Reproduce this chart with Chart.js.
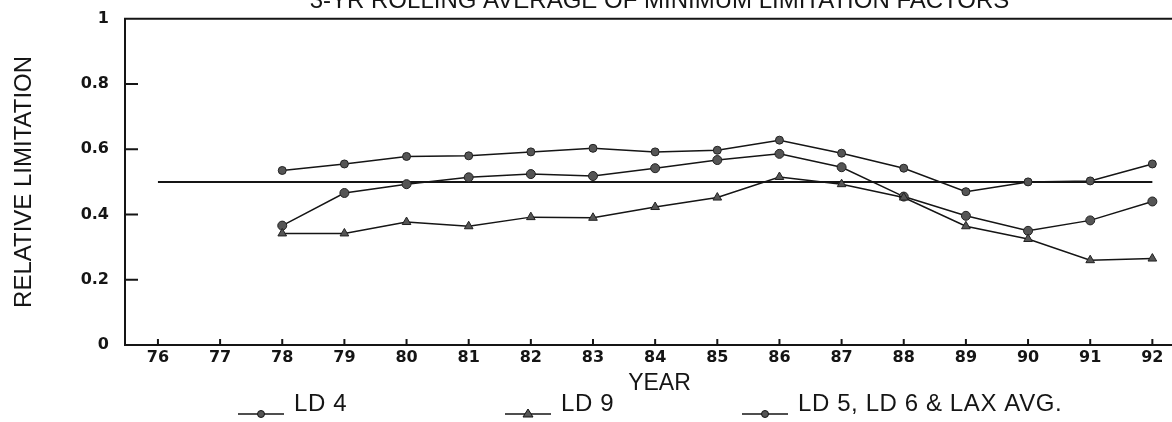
<!DOCTYPE html>
<html>
<head>
<meta charset="utf-8">
<script src="https://cdn.jsdelivr.net/npm/chart.js@4.4.1/dist/chart.umd.min.js"></script>
<style>
  html, body { margin: 0; padding: 0; background: #fff; overflow: hidden; width: 1172px; height: 422px; }
  #wrap { position: absolute; left: 0; top: -13px; width: 1200px; height: 435px; }
</style>
</head>
<body>
<div id="wrap"><canvas id="chart" width="1200" height="435"></canvas></div>
<script>
// --- data ---
const years = [78, 79, 80, 81, 82, 83, 84, 85, 86, 87, 88, 89, 90, 91, 92];
const ld4 = [0.535, 0.555, 0.578, 0.580, 0.592, 0.603, 0.592, 0.597, 0.628, 0.588, 0.542, 0.470, 0.500, 0.503, 0.555];
const ld9 = [0.342, 0.342, 0.377, 0.364, 0.392, 0.390, 0.423, 0.452, 0.515, 0.493, 0.452, 0.364, 0.325, 0.260, 0.265];
const ldAvg = [0.366, 0.466, 0.493, 0.514, 0.524, 0.518, 0.542, 0.567, 0.586, 0.545, 0.455, 0.396, 0.350, 0.382, 0.440];
const refYears = [76, 92];
const refLevel = 0.5;
const xTicks = [76, 77, 78, 79, 80, 81, 82, 83, 84, 85, 86, 87, 88, 89, 90, 91, 92];
const yTicks = [0, 0.2, 0.4, 0.6, 0.8, 1];

const INK = '#151515';
const SANS = "'Liberation Sans', Arial, Helvetica, sans-serif";
const BOLD = "'DejaVu Sans', sans-serif";

const toPoints = vals => years.map((yr, i) => ({ x: yr, y: vals[i] }));

// left edge of each legend entry (symbol start), in px
const legendLeft = [238, 505, 742];

// inner tick marks, top frame line and the legend
const framePlugin = {
    id: 'frame',
    afterDraw(chart) {
        const { ctx, chartArea: a, scales: { x, y } } = chart;
        ctx.save();
        ctx.strokeStyle = INK;
        ctx.lineWidth = 2;
        ctx.beginPath();
        ctx.moveTo(a.left - 1, a.top);
        ctx.lineTo(a.right, a.top);
        yTicks.slice(1, -1).forEach(v => {
            const py = y.getPixelForValue(v);
            ctx.moveTo(a.left, py);
            ctx.lineTo(a.left + 13, py);
        });
        xTicks.forEach(v => {
            const px = x.getPixelForValue(v);
            ctx.moveTo(px, a.bottom);
            ctx.lineTo(px, a.bottom - 6);
        });
        ctx.stroke();

        // legend
        const base = chart.height - 11;
        const lineY = base + 3;
        const items = chart.data.datasets.filter(ds => ds.marker);
        ctx.font = '24px ' + SANS;
        ctx.letterSpacing = '0.6px';
        ctx.textBaseline = 'alphabetic';
        ctx.textAlign = 'left';
        items.forEach((ds, i) => {
            const x0 = legendLeft[i];
            const cx = x0 + 23;
            ctx.lineWidth = 1.5;
            ctx.strokeStyle = INK;
            ctx.beginPath();
            ctx.moveTo(x0, lineY);
            ctx.lineTo(x0 + 46, lineY);
            ctx.stroke();
            ctx.fillStyle = '#555';
            ctx.lineWidth = 1;
            ctx.beginPath();
            if (ds.marker === 'triangle') {
                ctx.moveTo(cx, lineY - 5);
                ctx.lineTo(cx + 5, lineY + 3);
                ctx.lineTo(cx - 5, lineY + 3);
                ctx.closePath();
            } else {
                ctx.arc(cx, lineY, 3.5, 0, Math.PI * 2);
            }
            ctx.fill();
            ctx.stroke();
            ctx.fillStyle = INK;
            ctx.fillText(ds.label, x0 + 56, base);
        });
        ctx.restore();
    }
};

new Chart(document.getElementById('chart'), {
    type: 'line',
    data: {
        datasets: [
            {
                label: 'LD 4',
                marker: 'circle',
                data: toPoints(ld4),
                borderColor: INK,
                borderWidth: 1.5,
                pointStyle: 'circle',
                pointRadius: 4,
                pointBackgroundColor: '#555',
                pointBorderColor: '#222',
                pointBorderWidth: 1
            },
            {
                label: 'LD 9',
                marker: 'triangle',
                data: toPoints(ld9),
                borderColor: INK,
                borderWidth: 1.5,
                pointStyle: 'triangle',
                pointRadius: 5,
                pointBackgroundColor: '#555',
                pointBorderColor: '#222',
                pointBorderWidth: 1
            },
            {
                label: 'LD 5, LD 6 & LAX AVG.',
                marker: 'circle',
                data: toPoints(ldAvg),
                borderColor: INK,
                borderWidth: 1.5,
                pointStyle: 'circle',
                pointRadius: 4.5,
                pointBackgroundColor: '#555',
                pointBorderColor: '#222',
                pointBorderWidth: 1
            },
            {
                label: 'reference',
                data: refYears.map(yr => ({ x: yr, y: refLevel })),
                borderColor: INK,
                borderWidth: 2,
                pointRadius: 0
            }
        ]
    },
    options: {
        responsive: false,
        animation: false,
        events: [],
        layout: { padding: { left: 0, right: 0, top: 0, bottom: 25 } },
        scales: {
            x: {
                type: 'linear',
                min: 75.47,
                max: 92.67,
                afterBuildTicks: s => { s.ticks = xTicks.map(v => ({ value: v })); },
                afterFit: s => { s.height = 52; },
                grid: { display: false, drawTicks: false },
                border: { display: true, color: INK, width: 2 },
                ticks: {
                    padding: 3,
                    autoSkip: false,
                    maxRotation: 0,
                    color: INK,
                    font: { family: BOLD, size: 16, weight: 'bold' },
                    callback: v => String(v)
                },
                title: {
                    display: true,
                    text: 'YEAR',
                    color: INK,
                    font: { family: SANS, size: 23 },
                    padding: { top: 0, bottom: 0 }
                }
            },
            y: {
                min: 0,
                max: 1,
                afterBuildTicks: s => { s.ticks = yTicks.map(v => ({ value: v })); },
                afterFit: s => { s.width = 125; },
                grid: { display: false, drawTicks: false },
                border: { display: true, color: INK, width: 2 },
                ticks: {
                    padding: 16,
                    color: INK,
                    font: { family: BOLD, size: 16, weight: 'bold' },
                    callback: v => (v === 0 || v === 1) ? String(v) : v.toFixed(1)
                },
                title: {
                    display: true,
                    text: 'RELATIVE LIMITATION',
                    color: INK,
                    font: { family: SANS, size: 24 },
                    padding: { top: 10, bottom: 0 }
                }
            }
        },
        plugins: {
            legend: { display: false },
            tooltip: { enabled: false },
            title: {
                display: true,
                fullSize: false,
                text: '3-YR ROLLING AVERAGE OF MINIMUM LIMITATION FACTORS',
                color: INK,
                font: { family: SANS, size: 24, weight: 'normal' },
                padding: { top: 0, bottom: 3 }
            }
        }
    },
    plugins: [framePlugin]
});
</script>
</body>
</html>
